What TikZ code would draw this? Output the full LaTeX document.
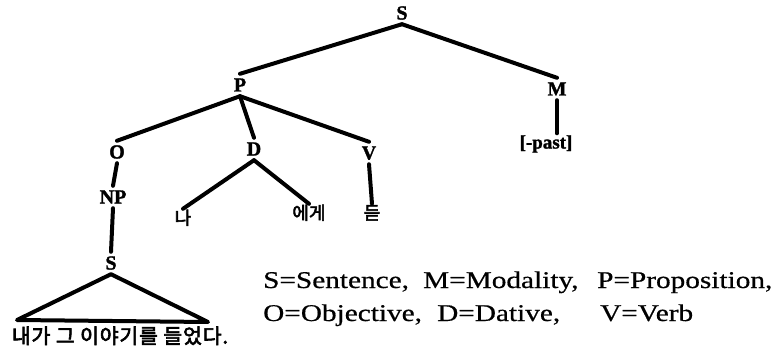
\documentclass[tikz,border=0pt]{standalone}
\usepackage{fontspec}
\setmainfont{Liberation Serif}
\newfontfamily\kor[FakeBold=3]{Noto Sans CJK KR}
\newfontfamily\korwide[FakeBold=3, LetterSpace=4]{Noto Sans CJK KR}
\newfontfamily\catfont[FakeBold=1.5]{Liberation Serif Bold}
\newfontfamily\legfont[FakeStretch=1.22, FakeBold=0.6]{Liberation Serif}
\begin{document}
\begin{tikzpicture}[x=1pt,y=-1pt,
  cat/.style={font=\catfont\fontsize{20}{20}\selectfont, text height=13pt, text depth=0pt, inner sep=4.5pt},
  word/.style={font=\kor\fontsize{18}{18}\selectfont, text height=13pt, text depth=0pt, inner sep=2.5pt},
  branch/.style={line width=4pt, line cap=round, line join=round},
  legend/.style={anchor=base west, inner sep=0pt, font=\legfont\fontsize{24}{24}\selectfont}]
\useasboundingbox (0,0) rectangle (777,353);

% category labels
\node[cat] (S0) at (402,13) {S};
\node[cat] (P)  at (240,85) {P};
\node[cat] (M)  at (557,89) {M};
\node[cat] (O)  at (117,152) {O};
\node[cat] (D)  at (254,149) {D};
\node[cat] (V)  at (369,153) {V};
\node[cat] (NP) at (113,197) {NP};
\node[cat] (S1) at (111,263) {S};
\node[cat, font=\catfont\fontsize{19}{19}\selectfont, inner sep=2pt] (past) at (546,142) {[-past]};

% lexical items
\node[word] (na)   at (183,218) {나};
\node[word] (ege)  at (309,213) {에게};
\node[word] (deut) at (372,213) {듣};
\node[word, font=\korwide\fontsize{20.5}{20.5}\selectfont, inner sep=0pt] (sent) at (120,337) {내가 그 이야기를 들었다.};

% tree branches
\draw[branch] (S0.south) -- (P.north);
\draw[branch] (S0.south) -- (M.north);
\draw[branch] (M.south) -- (M.south |- past.north);
\draw[branch] (P.south) -- (O.north);
\draw[branch] (P.south) -- (D.north);
\draw[branch] (P.south) -- (V.north);
\draw[branch] (O.south) -- (NP.north);
\draw[branch] (NP.south) -- (S1.north);
\draw[branch] (D.south) -- (na.north);
\draw[branch] (D.south) -- (ege.north);
\draw[branch] (V.south) -- (deut.north);

% triangle over the embedded sentence
\coordinate (tl) at (17,320);
\coordinate (tr) at (208,322);
\draw[branch] (S1.south) -- (tl) -- (tr) -- cycle;

% abbreviations
\node[legend] (l1) at (263,288) {S=Sentence,};
\node[legend] (l2) at (423,288) {M=Modality,};
\node[legend] (l3) at (597,288) {P=Proposition,};
\node[legend] (l4) at (263,321) {O=Objective,};
\node[legend] (l5) at (437,321) {D=Dative,};
\node[legend] (l6) at (600,321) {V=Verb};
\end{tikzpicture}
\end{document}
